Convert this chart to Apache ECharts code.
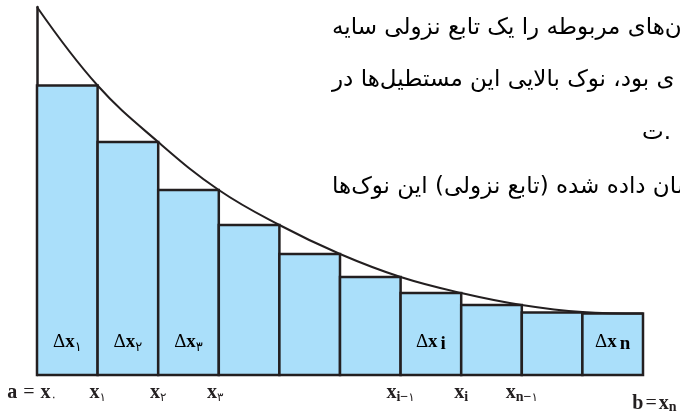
<!DOCTYPE html>
<html><head><meta charset="utf-8">
<script src="https://cdn.jsdelivr.net/npm/echarts@6/dist/echarts.min.js"></script>
<style>html,body{margin:0;padding:0;background:#fff}#c{width:680px;height:415px}</style>
</head><body><div id="c"></div>
<script>
// ---- data ----
const nodes = [0,1,2,3,4,5,6,7,8,9,10];
const curveValues = [368, 289.5, 233, 185, 150, 121, 98, 82, 70, 63, 61.5];
const rectHeights = [289.5, 233, 185, 150, 121, 98, 82, 70, 62.5, 61.5];
const rectSubscripts = ['۱','۲','۳','','','','i','','','n'];
const tickNodes = [0,1,2,3,6,7,8,10];
const tickMain = ['a = x','x','x','x','x','x','x','b = x'];
const tickSubs = ['۰','۱','۲','۳','i−۱','i','n−۱','n'];
const textLines = ['ن‌های مربوطه را یک تابع نزولی سایه','ی بود، نوک بالایی این مستطیل‌ها در','ت.','سان داده شده (تابع نزولی) این نوک‌ها'];

const INK = '#231f20';
const SERIF = '"Liberation Serif", "DejaVu Serif", serif';
const FA = '"DejaVu Sans", sans-serif';

function subTokens(s, latinStyle, faStyle, gapStyle){
  let out = '';
  let first = true;
  for (const ch of s){
    if (/[\u06F0-\u06F9]/.test(ch)) out += '{' + faStyle + '|' + ch + '}';
    else {
      if (first && gapStyle) out += '{' + gapStyle + '| }';
      out += '{' + latinStyle + '|' + ch + '}';
    }
    first = false;
  }
  return out;
}
function mainTokens(s, st, eqSt, spSt){
  let out = '';
  for (const ch of s){
    if (ch === '=') out += '{' + eqSt + '|=}';
    else if (ch === ' ') out += '{' + spSt + '| }';
    else out += '{' + st + '|' + ch + '}';
  }
  return out;
}

const tickRich = {
  m: {fontFamily: SERIF, fontWeight: 'bold', fontSize: 20, color: INK, lineHeight: 22},
  e: {fontFamily: SERIF, fontSize: 20, color: INK, lineHeight: 22},
  w: {fontFamily: SERIF, fontSize: 20, color: INK, lineHeight: 22, width: 6},
  sl: {fontFamily: SERIF, fontWeight: 'bold', fontSize: 14, color: INK, lineHeight: 16, verticalAlign: 'bottom'},
  sp: {fontFamily: FA, fontSize: 12, color: INK, lineHeight: 16, verticalAlign: 'bottom'},
  // variant for the lower "b = x n" label
  mb: {fontFamily: SERIF, fontWeight: 'bold', fontSize: 20, color: INK, lineHeight: 22, verticalAlign: 'bottom'},
  eb: {fontFamily: SERIF, fontSize: 20, color: INK, lineHeight: 22, verticalAlign: 'bottom'},
  wb: {fontFamily: SERIF, fontSize: 20, color: INK, lineHeight: 22, width: 2, verticalAlign: 'bottom'},
  gap: {fontSize: 10, lineHeight: 32, verticalAlign: 'bottom'},
  pre10: {fontSize: 10, lineHeight: 10, width: 20, verticalAlign: 'bottom'},
  post0: {fontSize: 10, lineHeight: 10, width: 10},
  post3: {fontSize: 10, lineHeight: 10, width: 7}
};
const tickPre = {10: 'pre10'};
const tickPost = {0: 'post0', 3: 'post3'};

const boxRich = {
  d: {fontFamily: SERIF, fontSize: 19, color: INK, lineHeight: 24},
  m: {fontFamily: SERIF, fontWeight: 'bold', fontSize: 19, color: INK, lineHeight: 24},
  g: {fontFamily: SERIF, fontSize: 19, color: INK, lineHeight: 24, width: 3},
  sl: {fontFamily: SERIF, fontWeight: 'bold', fontSize: 19, color: INK, lineHeight: 16, verticalAlign: 'bottom'},
  sp: {fontFamily: FA, fontSize: 13, color: INK, lineHeight: 18, verticalAlign: 'bottom'}
};

const chart = echarts.init(document.getElementById('c'), null, {renderer: 'canvas'});
chart.setOption({
  animation: false,
  backgroundColor: '#fff',
  grid: {left: 37, right: 37, top: 7, bottom: 40, containLabel: false, outerBoundsMode: 'none'},
  xAxis: {
    type: 'value', min: 0, max: 10,
    axisLine: {show: false}, axisTick: {show: false}, splitLine: {show: false},
    axisLabel: {
      show: true, margin: 7, hideOverlap: false,
      customValues: tickNodes,
      formatter: function(v){
        const k = tickNodes.indexOf(v);
        if (k < 0) return '';
        const low = v === 10;
        let s = '';
        if (low) s += '{gap| }';
        if (tickPre[v]) s += '{' + tickPre[v] + '| }';
        s += low ? mainTokens(tickMain[k], 'mb', 'eb', 'wb') : mainTokens(tickMain[k], 'm', 'e', 'w');
        s += subTokens(tickSubs[k], 'sl', 'sp');
        if (tickPost[v]) s += '{' + tickPost[v] + '| }';
        return s;
      },
      rich: tickRich
    }
  },
  yAxis: {
    type: 'value', min: 0, max: 368,
    axisLine: {show: true, lineStyle: {color: INK, width: 2.5}},
    axisTick: {show: false}, axisLabel: {show: false}, splitLine: {show: false}
  },
  series: [
    {
      type: 'custom',
      z: 2,
      data: rectHeights.map((h, i) => [nodes[i], h]),
      renderItem: function(params, api){
        const i = api.value(0), h = api.value(1);
        const p0 = api.coord([i, 0]);
        const p1 = api.coord([i + 1, h]);
        const children = [{
          type: 'rect',
          shape: {x: p0[0], y: p1[1], width: p1[0] - p0[0], height: p0[1] - p1[1]},
          style: {fill: '#aadffa', stroke: INK, lineWidth: 2.5}
        }];
        const sub = rectSubscripts[params.dataIndex];
        if (sub){
          children.push({
            type: 'text',
            x: (p0[0] + p1[0]) / 2, y: p0[1] - 33,
            style: {
              text: '{d|Δ}{m|x}' + subTokens(sub, 'sl', 'sp', 'g'),
              rich: boxRich, align: 'center', verticalAlign: 'middle'
            }
          });
        }
        return {type: 'group', children: children};
      }
    },
    {
      type: 'line',
      z: 3,
      smooth: 0.4,
      symbol: 'none',
      data: nodes.map((x, i) => [x, curveValues[i]]),
      lineStyle: {color: INK, width: 2}
    }
  ],
  graphic: [
    {type: 'text', x: 332, y: 28, style: {text: textLines[0], font: '23px ' + FA, fill: '#000', align: 'left', verticalAlign: 'middle'}},
    {type: 'text', x: 332, y: 80, style: {text: textLines[1], font: '23px ' + FA, fill: '#000', align: 'left', verticalAlign: 'middle'}},
    {type: 'text', x: 671, y: 133, style: {text: textLines[2], font: '23px ' + FA, fill: '#000', align: 'right', verticalAlign: 'middle'}},
    {type: 'text', x: 332, y: 187, style: {text: textLines[3], font: '23px ' + FA, fill: '#000', align: 'left', verticalAlign: 'middle'}}
  ]
});
</script>
</body></html>
